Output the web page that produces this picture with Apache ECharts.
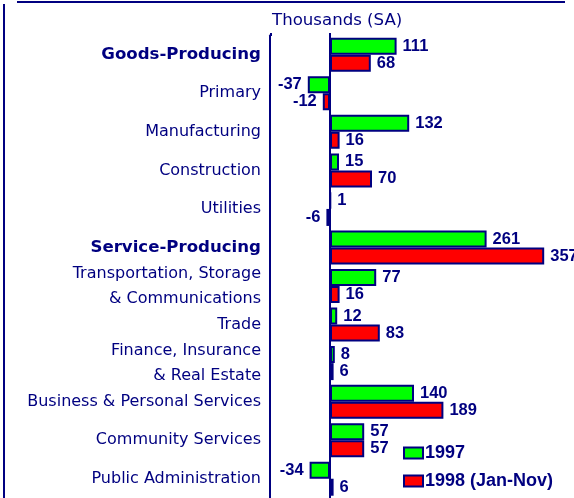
<!DOCTYPE html>
<html>
<head>
<meta charset="utf-8">
<script src="https://cdn.jsdelivr.net/npm/echarts@6/dist/echarts.min.js"></script>
<style>
  html, body { margin: 0; padding: 0; background: #ffffff; }
  #chart { width: 574px; height: 498px; }
</style>
</head>
<body>
<div id="chart"></div>
<script>
// Employment change by industry, thousands (seasonally adjusted)
const categories = [
  'Goods-Producing',
  'Primary',
  'Manufacturing',
  'Construction',
  'Utilities',
  'Service-Producing',
  'Transportation, Storage\n& Communications',
  'Trade',
  'Finance, Insurance\n& Real Estate',
  'Business & Personal Services',
  'Community Services',
  'Public Administration'
];
const boldCategories = ['Goods-Producing', 'Service-Producing'];
const values1997 = [111, -37, 132, 15, 1, 261, 77, 12, 8, 140, 57, -34];
const values1998 = [68, -12, 16, 70, -6, 357, 16, 83, 6, 189, 57, 6];
const seriesNames = ['1997', '1998 (Jan-Nov)'];
const axisTitle = 'Thousands (SA)';

const NAVY = '#000080';

const valueLabel = {
  show: true,
  color: NAVY,
  fontFamily: 'Liberation Sans',
  fontWeight: 'bold',
  fontSize: 16.5,
  distance: 6
};

function makeData(values) {
  return values.map(v => ({
    value: v,
    label: { position: v < 0 ? 'left' : 'right' }
  }));
}

const chart = echarts.init(document.getElementById('chart'), null, { renderer: 'canvas' });

chart.setOption({
  animation: false,
  backgroundColor: '#ffffff',
  title: {
    text: axisTitle,
    left: 272,
    top: 12,
    padding: 0,
    textStyle: {
      color: NAVY,
      fontFamily: 'DejaVu Sans',
      fontWeight: 'normal',
      fontSize: 16.6
    }
  },
  grid: {
    left: 270,
    right: 4,
    top: 35.5,
    height: 468,
    containLabel: false
  },
  xAxis: {
    type: 'value',
    min: -100,
    max: 400,
    show: false
  },
  yAxis: {
    type: 'category',
    data: categories,
    inverse: true,
    axisLine: { show: true, onZero: false, lineStyle: { color: NAVY, width: 2 } },
    axisTick: { show: false },
    axisLabel: {
      margin: 9,
      color: NAVY,
      fontFamily: 'DejaVu Sans',
      fontSize: 16,
      lineHeight: 25,
      align: 'right',
      formatter: function (v) {
        return boldCategories.indexOf(v) >= 0 ? '{b|' + v + '}' : v;
      },
      rich: {
        b: {
          color: NAVY,
          fontFamily: 'DejaVu Sans',
          fontWeight: 'bold',
          fontSize: 16.6
        }
      }
    }
  },
  legend: {
    orient: 'vertical',
    left: 403,
    top: 444,
    padding: 0,
    itemWidth: 19,
    itemHeight: 11,
    itemGap: 10,
    icon: 'rect',
    itemStyle: { borderColor: NAVY, borderWidth: 2 },
    textStyle: {
      color: NAVY,
      fontFamily: 'Liberation Sans',
      fontWeight: 'bold',
      fontSize: 18,
      padding: [0, 0, 0, -3]
    },
    data: seriesNames
  },
  series: [
    {
      name: seriesNames[0],
      type: 'bar',
      data: makeData(values1997),
      barWidth: 17,
      barGap: '0%',
      itemStyle: { color: '#00ff00', borderColor: NAVY, borderWidth: 2 },
      label: valueLabel,
      markLine: {
        silent: true,
        symbol: 'none',
        label: { show: false },
        lineStyle: { color: NAVY, width: 2, type: 'solid' },
        data: [{ xAxis: 0 }]
      }
    },
    {
      name: seriesNames[1],
      type: 'bar',
      data: makeData(values1998),
      barWidth: 17,
      barGap: '0%',
      itemStyle: { color: '#ff0000', borderColor: NAVY, borderWidth: 2 },
      label: valueLabel
    }
  ],
  graphic: [
    {
      type: 'line',
      shape: { x1: 17, y1: 2, x2: 565, y2: 2 },
      style: { stroke: NAVY, lineWidth: 2 }
    },
    {
      type: 'line',
      shape: { x1: 4, y1: 4, x2: 4, y2: 498 },
      style: { stroke: NAVY, lineWidth: 2 }
    },
    {
      type: 'line',
      shape: { x1: 271, y1: 33, x2: 271, y2: 36 },
      style: { stroke: NAVY, lineWidth: 2 }
    },
    {
      type: 'line',
      shape: { x1: 330, y1: 33, x2: 330, y2: 36 },
      style: { stroke: NAVY, lineWidth: 2 }
    }
  ]
});
</script>
</body>
</html>
